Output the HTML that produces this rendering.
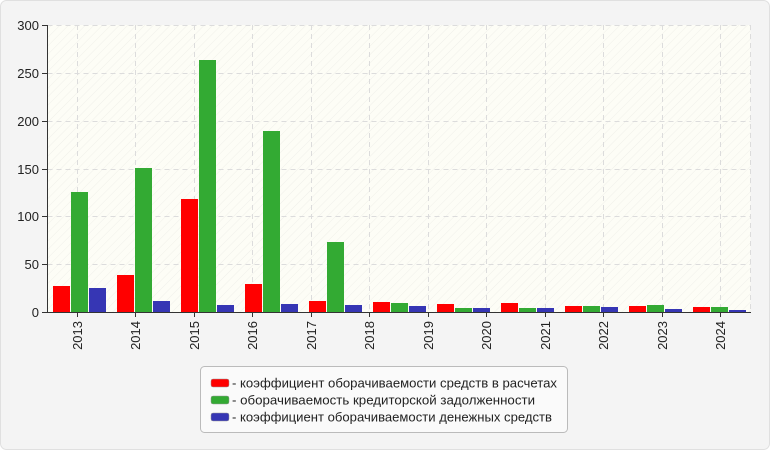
<!DOCTYPE html>
<html><head><meta charset="utf-8"><style>
html,body{margin:0;padding:0;background:#fff;}
svg{display:block;font-family:"Liberation Sans",Arial,sans-serif;}
</style></head><body>
<svg width="770" height="450" viewBox="0 0 770 450" xmlns="http://www.w3.org/2000/svg">
<defs>
<pattern id="h" width="6" height="6" patternUnits="userSpaceOnUse" patternTransform="rotate(45)">
<rect width="6" height="6" fill="#fdfdf6"/><line x1="0" y1="0" x2="0" y2="6" stroke="#f0f0ea" stroke-width="1"/>
</pattern>
</defs>
<rect x="0.5" y="0.5" width="769" height="449" rx="6" fill="#f4f4f4" stroke="#e0e0e0"/>
<rect x="47.5" y="25" width="703" height="287" fill="url(#h)"/>
<g stroke="#dcdcdc" stroke-dasharray="5,4" stroke-width="1">
<line x1="47.5" y1="264.5" x2="750.5" y2="264.5"/>
<line x1="47.5" y1="216.5" x2="750.5" y2="216.5"/>
<line x1="47.5" y1="169.5" x2="750.5" y2="169.5"/>
<line x1="47.5" y1="121.5" x2="750.5" y2="121.5"/>
<line x1="47.5" y1="73.5" x2="750.5" y2="73.5"/>
<line x1="47.5" y1="25.5" x2="750.5" y2="25.5"/>
<line x1="77.5" y1="25" x2="77.5" y2="312"/>
<line x1="135.5" y1="25" x2="135.5" y2="312"/>
<line x1="194.5" y1="25" x2="194.5" y2="312"/>
<line x1="252.5" y1="25" x2="252.5" y2="312"/>
<line x1="311.5" y1="25" x2="311.5" y2="312"/>
<line x1="369.5" y1="25" x2="369.5" y2="312"/>
<line x1="428.5" y1="25" x2="428.5" y2="312"/>
<line x1="486.5" y1="25" x2="486.5" y2="312"/>
<line x1="545.5" y1="25" x2="545.5" y2="312"/>
<line x1="603.5" y1="25" x2="603.5" y2="312"/>
<line x1="662.5" y1="25" x2="662.5" y2="312"/>
<line x1="720.5" y1="25" x2="720.5" y2="312"/>
<line x1="750.5" y1="25" x2="750.5" y2="312"/>
</g>
<g id="bars">
<rect x="53" y="286" width="17" height="26" fill="#ff0000"/><rect x="71" y="192" width="17" height="120" fill="#33aa33"/><rect x="89" y="288" width="17" height="24" fill="#3636b4"/>
<rect x="117" y="275" width="17" height="37" fill="#ff0000"/><rect x="135" y="168" width="17" height="144" fill="#33aa33"/><rect x="153" y="301" width="17" height="11" fill="#3636b4"/>
<rect x="181" y="199" width="17" height="113" fill="#ff0000"/><rect x="199" y="60" width="17" height="252" fill="#33aa33"/><rect x="217" y="305" width="17" height="7" fill="#3636b4"/>
<rect x="245" y="284" width="17" height="28" fill="#ff0000"/><rect x="263" y="131" width="17" height="181" fill="#33aa33"/><rect x="281" y="304" width="17" height="8" fill="#3636b4"/>
<rect x="309" y="301" width="17" height="11" fill="#ff0000"/><rect x="327" y="242" width="17" height="70" fill="#33aa33"/><rect x="345" y="305" width="17" height="7" fill="#3636b4"/>
<rect x="373" y="302" width="17" height="10" fill="#ff0000"/><rect x="391" y="303" width="17" height="9" fill="#33aa33"/><rect x="409" y="306" width="17" height="6" fill="#3636b4"/>
<rect x="437" y="304" width="17" height="8" fill="#ff0000"/><rect x="455" y="308" width="17" height="4" fill="#33aa33"/><rect x="473" y="308" width="17" height="4" fill="#3636b4"/>
<rect x="501" y="303" width="17" height="9" fill="#ff0000"/><rect x="519" y="308" width="17" height="4" fill="#33aa33"/><rect x="537" y="308" width="17" height="4" fill="#3636b4"/>
<rect x="565" y="306" width="17" height="6" fill="#ff0000"/><rect x="583" y="306" width="17" height="6" fill="#33aa33"/><rect x="601" y="307" width="17" height="5" fill="#3636b4"/>
<rect x="629" y="306" width="17" height="6" fill="#ff0000"/><rect x="647" y="305" width="17" height="7" fill="#33aa33"/><rect x="665" y="309" width="17" height="3" fill="#3636b4"/>
<rect x="693" y="307" width="17" height="5" fill="#ff0000"/><rect x="711" y="307" width="17" height="5" fill="#33aa33"/><rect x="729" y="310" width="17" height="2" fill="#3636b4"/>
</g>
<g stroke="#333" stroke-width="1">
<line x1="47.5" y1="25" x2="47.5" y2="312"/>
<line x1="47" y1="312.5" x2="751" y2="312.5"/>
<line x1="42" y1="25.5" x2="47" y2="25.5"/><line x1="42" y1="73.5" x2="47" y2="73.5"/><line x1="42" y1="121.5" x2="47" y2="121.5"/><line x1="42" y1="169.5" x2="47" y2="169.5"/><line x1="42" y1="216.5" x2="47" y2="216.5"/><line x1="42" y1="264.5" x2="47" y2="264.5"/><line x1="42" y1="312.5" x2="47" y2="312.5"/>
<line x1="77.5" y1="312" x2="77.5" y2="317"/><line x1="135.5" y1="312" x2="135.5" y2="317"/><line x1="194.5" y1="312" x2="194.5" y2="317"/><line x1="252.5" y1="312" x2="252.5" y2="317"/><line x1="311.5" y1="312" x2="311.5" y2="317"/><line x1="369.5" y1="312" x2="369.5" y2="317"/><line x1="428.5" y1="312" x2="428.5" y2="317"/><line x1="486.5" y1="312" x2="486.5" y2="317"/><line x1="545.5" y1="312" x2="545.5" y2="317"/><line x1="603.5" y1="312" x2="603.5" y2="317"/><line x1="662.5" y1="312" x2="662.5" y2="317"/><line x1="720.5" y1="312" x2="720.5" y2="317"/>
</g>
<g font-size="13" fill="#222" text-anchor="end">
<text x="39" y="30">300</text><text x="39" y="78">250</text><text x="39" y="126">200</text><text x="39" y="174">150</text><text x="39" y="221">100</text><text x="39" y="269">50</text><text x="39" y="317">0</text>
</g>
<g font-size="13" fill="#222" text-anchor="end">
<text transform="translate(82,321) rotate(-90)">2013</text>
<text transform="translate(140,321) rotate(-90)">2014</text>
<text transform="translate(199,321) rotate(-90)">2015</text>
<text transform="translate(257,321) rotate(-90)">2016</text>
<text transform="translate(316,321) rotate(-90)">2017</text>
<text transform="translate(374,321) rotate(-90)">2018</text>
<text transform="translate(433,321) rotate(-90)">2019</text>
<text transform="translate(491,321) rotate(-90)">2020</text>
<text transform="translate(550,321) rotate(-90)">2021</text>
<text transform="translate(608,321) rotate(-90)">2022</text>
<text transform="translate(667,321) rotate(-90)">2023</text>
<text transform="translate(725,321) rotate(-90)">2024</text>
</g>
<rect x="200.5" y="366.5" width="367" height="66" rx="4" fill="#fafafa" stroke="#bbb"/>
<rect x="211" y="379" width="18" height="8" rx="2" fill="#ff0000" stroke="#999" stroke-width="0.5"/>
<rect x="211" y="396" width="18" height="8" rx="2" fill="#33aa33" stroke="#999" stroke-width="0.5"/>
<rect x="211" y="413" width="18" height="8" rx="2" fill="#3636b4" stroke="#999" stroke-width="0.5"/>
<g font-size="13" fill="#222">
<text x="232" y="387.5" textLength="325" lengthAdjust="spacingAndGlyphs">- коэффициент оборачиваемости средств в расчетах</text>
<text x="232" y="404.5" textLength="303" lengthAdjust="spacingAndGlyphs">- оборачиваемость кредиторской задолженности</text>
<text x="232" y="421.5" textLength="320" lengthAdjust="spacingAndGlyphs">- коэффициент оборачиваемости денежных средств</text>
</g>
</svg>
</body></html>
